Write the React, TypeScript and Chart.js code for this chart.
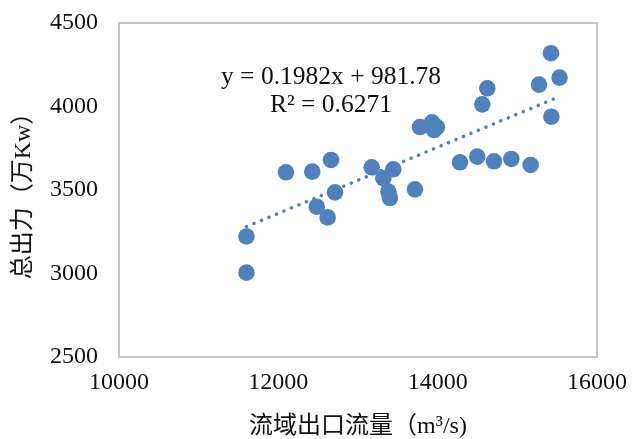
import React, { useEffect, useRef } from "react";
import { Chart, registerables } from "chart.js";

Chart.register(...registerables);

// Data
const flowX: number[] = [
  11600, 11600, 12096, 12426, 12482, 12619, 12661, 12711,
  13172, 13318, 13381, 13401, 13443, 13715, 13778, 13929,
  13954, 13991, 14280, 14497, 14560, 14623, 14707, 14925,
  15167, 15272, 15422, 15427, 15530,
];
const powerY: number[] = [
  3222, 3005, 3606, 3610, 3400, 3336, 3680, 3486,
  3636, 3570, 3490, 3452, 3624, 3504, 3877, 3905,
  3859, 3877, 3666, 3700, 4013, 4109, 3672, 3686,
  3650, 4131, 4319, 3939, 4173,
];

const SLOPE = 0.1982;
const INTERCEPT = 981.78;
const EQUATION_TEXT = "y = 0.1982x + 981.78";
const R2_TEXT = "R² = 0.6271";

const xTicks: number[] = [10000, 12000, 14000, 16000];
const yTicks: number[] = [2500, 3000, 3500, 4000, 4500];

const X_TITLE = "流域出口流量（m³/s)";
const Y_TITLE = "总出力（万Kw）";

const BLUE = "#4F81BD";
const SERIF = '"Liberation Serif", "Times New Roman", "Noto Sans CJK SC", serif';
const CJK = '"Liberation Serif", "Noto Sans CJK SC", serif';

function zeroPad(scale: any) {
  scale.paddingTop = 0;
  scale.paddingBottom = 0;
  scale.paddingLeft = 0;
  scale.paddingRight = 0;
}

export default function App() {
  const canvasRef = useRef<HTMLCanvasElement | null>(null);

  useEffect(() => {
    document.body.style.margin = "0";
    const canvas = canvasRef.current;
    if (!canvas) return;

    const xMin = Math.min(...flowX);
    const xMax = Math.max(...flowX);
    const trend = [
      { x: xMin, y: SLOPE * xMin + INTERCEPT },
      { x: xMax, y: SLOPE * xMax + INTERCEPT },
    ];
    const points = flowX.map((x, i) => ({ x, y: powerY[i] }));

    const frame = {
      id: "frame",
      beforeDatasetsDraw(chart: any) {
        const { ctx, chartArea: a } = chart;
        ctx.save();
        ctx.strokeStyle = "#C6C6C6";
        ctx.lineWidth = 2;
        ctx.strokeRect(a.left, a.top, a.right - a.left, a.bottom - a.top);
        ctx.restore();
      },
    };

    const equation = {
      id: "equation",
      afterDatasetsDraw(chart: any) {
        const { ctx, chartArea: a } = chart;
        ctx.save();
        ctx.fillStyle = "#111";
        ctx.font = `25.5px ${SERIF}`;
        ctx.textAlign = "center";
        ctx.textBaseline = "middle";
        const cx = a.left + 212;
        ctx.fillText(EQUATION_TEXT, cx, a.top + 54);
        ctx.fillText(R2_TEXT, cx, a.top + 82);
        ctx.restore();
      },
    };

    const chart = new Chart(canvas, {
      type: "scatter",
      data: {
        datasets: [
          {
            type: "line",
            data: trend,
            borderColor: BLUE,
            borderWidth: 3.5,
            borderDash: [0.1, 8],
            borderCapStyle: "round",
            pointRadius: 0,
            fill: false,
            order: 2,
          } as any,
          {
            type: "scatter",
            data: points,
            backgroundColor: BLUE,
            borderColor: BLUE,
            borderWidth: 0,
            pointRadius: 8.3,
            pointHoverRadius: 8.3,
            order: 1,
          },
        ],
      },
      options: {
        animation: false,
        responsive: false,
        maintainAspectRatio: false,
        events: [],
        layout: { padding: { top: 23, right: 35, left: 0, bottom: 0 } },
        plugins: {
          legend: { display: false },
          tooltip: { enabled: false },
        },
        scales: {
          x: {
            type: "linear",
            min: 10000,
            max: 16000,
            afterBuildTicks(scale: any) {
              scale.ticks = xTicks.map((v) => ({ value: v }));
            },
            afterFit(scale: any) {
              scale.height = 82;
              zeroPad(scale);
            },
            grid: { display: false, drawTicks: false },
            border: { display: false },
            ticks: {
              padding: 11,
              color: "#111",
              font: { family: SERIF, size: 24 },
              maxRotation: 0,
              callback: (v: any) => String(v),
            },
            title: {
              display: true,
              text: X_TITLE,
              color: "#111",
              font: { family: CJK, size: 24 },
              padding: { top: 0, bottom: -2 },
            },
          },
          y: {
            type: "linear",
            min: 2500,
            max: 4500,
            afterBuildTicks(scale: any) {
              scale.ticks = yTicks.map((v) => ({ value: v }));
            },
            afterFit(scale: any) {
              scale.width = 119;
              zeroPad(scale);
            },
            grid: { display: false, drawTicks: false },
            border: { display: false },
            ticks: {
              padding: 21,
              color: "#111",
              font: { family: SERIF, size: 24 },
              callback: (v: any) => String(v),
            },
            title: {
              display: true,
              text: Y_TITLE,
              color: "#111",
              font: { family: CJK, size: 24 },
              padding: { top: 9, bottom: 0 },
            },
          },
        },
      },
      plugins: [frame, equation],
    });

    return () => chart.destroy();
  }, []);

  return (
    <div style={{ position: "relative", width: 632, height: 439, background: "#fff" }}>
      <canvas ref={canvasRef} width={632} height={439} style={{ display: "block" }} />
    </div>
  );
}
